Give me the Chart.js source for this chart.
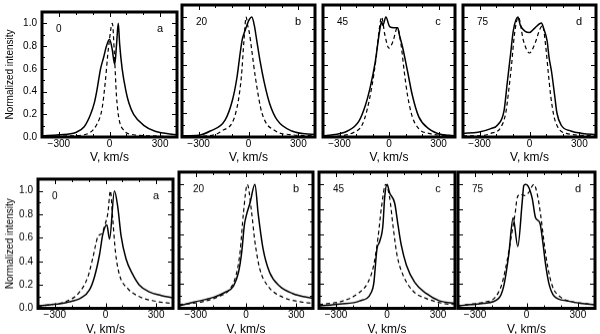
<!DOCTYPE html>
<html>
<head>
<meta charset="utf-8">
<script src="https://cdn.jsdelivr.net/npm/chart.js@4"></script>
<style>
  body { margin: 0; background: #fff; }
  #wrap { position: relative; width: 600px; height: 334px; overflow: hidden; background: #fff; }
</style>
</head>
<body>
<div id="wrap"></div>
<script>
// axis ticks
const xTickVals = [-300, 0, 300];
const xMinorVals = [-400, -300, -200, -100, 0, 100, 200, 300, 400];
const yTickVals = [0, 0.2, 0.4, 0.6, 0.8, 1.0];
const yMinorVals = [0.1, 0.2, 0.3, 0.4, 0.5, 0.6, 0.7, 0.8, 0.9, 1.0];
const angles = ['0', '20', '45', '75'];
const letters = ['a', 'b', 'c', 'd'];

// top row, solid / dashed profiles (V in km/s, normalized intensity)
const topA_solidV = [-400,-300,-200,-150,-112,-90,-76,-53,-35,-18,0,15,31,42,52,60,75,98,115,143,205,270,400];
const topA_solidI = [0.01,0.02,0.04,0.09,0.2,0.3,0.4,0.6,0.7,0.8,0.86,0.78,0.64,0.82,1.0,0.82,0.6,0.4,0.3,0.2,0.1,0.05,0.02];
const topA_dashV = [-400,-250,-150,-72,-43,-24,-10,0,10,17,29,41,55,84,143,250,400];
const topA_dashI = [0,0.01,0.02,0.12,0.26,0.5,0.73,0.86,0.97,1.0,0.73,0.37,0.17,0.06,0.02,0.01,0];

const topB_solidV = [-400,-300,-230,-141,-96,-69,-50,-38,-25,-10,5,20,35,49,70,94,127,173,261,400];
const topB_solidI = [0.01,0.015,0.05,0.14,0.31,0.5,0.7,0.81,0.87,0.93,0.98,1.0,0.93,0.81,0.63,0.46,0.28,0.14,0.05,0.02];
const topB_dashV = [-400,-250,-161,-77,-43,-27,-14,-5,5,20,41,81,163,250,400];
const topB_dashI = [0.005,0.01,0.05,0.2,0.5,0.81,1.0,0.93,0.87,0.72,0.5,0.2,0.05,0.02,0.01];

const topC_solidV = [-400,-329,-252,-183,-144,-113,-84,-55,-45,-37,-19,4,30,53,63,82,112,141,180,240,319,400];
const topC_solidI = [0.01,0.02,0.05,0.13,0.26,0.42,0.62,0.9,0.96,0.93,1.0,0.92,0.91,0.91,0.85,0.75,0.55,0.35,0.17,0.07,0.02,0.01];
const topC_dashV = [-400,-290,-212,-163,-134,-104,-79,-59,-45,-25,0,25,50,72,92,112,141,180,240,400];
const topC_dashI = [0,0.01,0.04,0.1,0.22,0.42,0.65,0.9,1.0,0.85,0.74,0.8,0.91,0.78,0.55,0.35,0.17,0.07,0.03,0.01];

const topD_solidV = [-400,-310,-232,-192,-153,-134,-113,-98,-70,-55,-26,0,33,72,86,106,118,132,151,165,190,249,319,400];
const topD_solidI = [0.03,0.04,0.07,0.1,0.22,0.45,0.7,0.88,1.0,0.93,0.88,0.87,0.91,0.95,0.9,0.8,0.66,0.55,0.35,0.2,0.1,0.05,0.03,0.02];
const topD_dashV = [-400,-310,-232,-173,-143,-124,-108,-91,-67,-36,0,33,63,79,98,112,127,146,171,220,400];
const topD_dashI = [0.01,0.01,0.03,0.08,0.2,0.4,0.6,0.85,1.0,0.8,0.7,0.78,0.9,0.93,0.75,0.55,0.35,0.18,0.08,0.03,0.01];

// bottom row
const botA_solidV = [-400,-329,-231,-143,-94,-65,-35,-16,8,24,53,73,92,122,161,200,259,330,400];
const botA_solidI = [0.02,0.03,0.05,0.09,0.16,0.27,0.46,0.63,0.71,0.59,1.0,0.86,0.62,0.42,0.29,0.2,0.14,0.11,0.09];
const botA_dashV = [-400,-329,-231,-153,-104,-75,-45,-20,-6,14,29,43,59,82,131,200,298,400];
const botA_dashI = [0.02,0.03,0.06,0.14,0.27,0.43,0.61,0.64,0.7,0.81,1.0,0.76,0.48,0.29,0.17,0.1,0.06,0.04];

const botB_solidV = [-400,-310,-192,-124,-75,-45,-25,-10,4,24,53,73,102,141,200,278,400];
const botB_solidI = [0.02,0.05,0.09,0.13,0.18,0.29,0.46,0.67,0.76,0.85,1.0,0.76,0.48,0.29,0.18,0.12,0.08];
const botB_dashV = [-400,-271,-173,-94,-59,-35,-16,8,33,53,82,131,220,337,400];
const botB_dashI = [0.03,0.05,0.09,0.16,0.27,0.46,0.76,1.0,0.78,0.54,0.32,0.18,0.09,0.05,0.04];

const botC_solidV = [-400,-278,-161,-92,-78,-59,-43,-24,-14,0,16,45,65,84,114,163,231,310,400];
const botC_solidI = [0.02,0.035,0.06,0.13,0.2,0.48,0.54,0.67,0.89,1.0,0.93,0.85,0.67,0.51,0.35,0.21,0.12,0.06,0.04];
const botC_dashV = [-400,-259,-171,-112,-78,-53,-33,-8,16,35,59,94,153,231,329,400];
const botC_dashI = [0.03,0.06,0.12,0.21,0.35,0.57,0.81,1.0,0.89,0.67,0.43,0.27,0.14,0.08,0.04,0.03];

const botD_solidV = [-400,-329,-251,-163,-133,-104,-78,-51,-25,-16,-6,8,33,53,78,92,112,131,161,239,318,400];
const botD_solidI = [0.02,0.03,0.04,0.08,0.18,0.43,0.73,0.5,0.86,0.99,1.0,0.99,0.89,0.73,0.69,0.57,0.35,0.2,0.1,0.06,0.04,0.03];
const botD_dashV = [-400,-349,-251,-182,-143,-114,-84,-65,-55,-35,-10,10,43,63,82,102,122,151,200,278,400];
const botD_dashI = [0.02,0.03,0.05,0.09,0.2,0.38,0.62,0.78,0.89,0.92,0.91,0.93,1.0,0.92,0.76,0.54,0.35,0.18,0.09,0.05,0.03];

// plot-area boxes in page pixels
const topBoxes = [[42,177],[182,315],[323,455],[463,596]];
const botBoxes = [[38,173],[179,313],[319,455],[458,595]];
const topY = [5, 137];
const botY = [172, 307.5];

const FONT = "'Liberation Sans', Arial, Helvetica, sans-serif";

function pts(vs, is) {
    return vs.map((v, k) => ({ x: v, y: is[k] }));
}

const frameAndTicks = {
    id: 'frameAndTicks',
    afterDatasetsDraw(chart, args, opts) {
        const ctx = chart.ctx;
        const a = chart.chartArea;
        const x = chart.scales.x, y = chart.scales.y;
        ctx.save();
        ctx.strokeStyle = '#000';
        ctx.lineWidth = 1;
        ctx.beginPath();
        xMinorVals.forEach(v => {
            const px = Math.round(x.getPixelForValue(v)) + 0.5;
            const len = xTickVals.includes(v) ? 5 : 3;
            ctx.moveTo(px, a.bottom); ctx.lineTo(px, a.bottom - len);
            ctx.moveTo(px, a.top); ctx.lineTo(px, a.top + len);
        });
        yMinorVals.forEach(v => {
            const py = Math.round(y.getPixelForValue(v)) + 0.5;
            const len = Math.round(v * 10) % 2 === 0 ? 5 : 3;
            ctx.moveTo(a.left, py); ctx.lineTo(a.left + len, py);
            ctx.moveTo(a.right, py); ctx.lineTo(a.right - len, py);
        });
        ctx.stroke();
        ctx.lineWidth = 3;
        ctx.strokeRect(a.left, a.top, a.right - a.left, a.bottom - a.top);
        ctx.fillStyle = '#000';
        ctx.font = '10px ' + FONT;
        ctx.textBaseline = 'middle';
        ctx.textAlign = 'left';
        ctx.fillText(opts.angle, a.left + 14, a.top + 17);
        ctx.font = '11px ' + FONT;
        ctx.textAlign = 'center';
        ctx.fillText(opts.letter, a.right - 17, a.top + 17);
        ctx.restore();
    }
};

function makePanel(box, rowY, col, solidV, solidI, dashV, dashI) {
    const L = box[0], R = box[1], T = rowY[0], B = rowY[1];
    const first = col === 0;
    const padL = 3, padT = 4, padR = 3, xH = 28;
    const yW = first ? L - padL : 0;
    const div = document.createElement('div');
    div.style.position = 'absolute';
    div.style.left = (L - yW - padL) + 'px';
    div.style.top = (T - padT) + 'px';
    div.style.width = (R - L + yW + padL + padR) + 'px';
    div.style.height = (B - T + padT + xH) + 'px';
    const canvas = document.createElement('canvas');
    div.appendChild(canvas);
    document.getElementById('wrap').appendChild(div);

    new Chart(canvas, {
        type: 'line',
        data: {
            datasets: [{
                data: pts(solidV, solidI),
                borderColor: '#000',
                borderWidth: 1.5,
                pointRadius: 0,
                cubicInterpolationMode: 'monotone'
            }, {
                data: pts(dashV, dashI),
                borderColor: '#000',
                borderWidth: 1.2,
                borderDash: [4, 3],
                pointRadius: 0,
                cubicInterpolationMode: 'monotone'
            }]
        },
        options: {
            responsive: true,
            maintainAspectRatio: false,
            animation: false,
            events: [],
            layout: { padding: { left: padL, top: padT, right: padR, bottom: 0 } },
            plugins: {
                legend: { display: false },
                tooltip: { enabled: false },
                frameAndTicks: { angle: angles[col], letter: letters[col] }
            },
            scales: {
                x: {
                    type: 'linear',
                    min: -400,
                    max: 400,
                    afterBuildTicks: s => { s.ticks = xTickVals.map(v => ({ value: v })); },
                    afterFit: s => { s.height = xH; },
                    grid: { display: false, drawTicks: false },
                    border: { display: false },
                    ticks: {
                        color: '#000',
                        padding: 1,
                        maxRotation: 0,
                        autoSkip: false,
                        font: { family: FONT, size: 10 },
                        callback: v => v < 0 ? '\u2212' + Math.abs(v) : String(v)
                    },
                    title: {
                        display: true,
                        text: 'V, km/s',
                        color: '#000',
                        padding: 0,
                        font: { family: FONT, size: 12 }
                    }
                },
                y: {
                    type: 'linear',
                    min: 0,
                    max: 1.1,
                    display: first,
                    afterBuildTicks: s => { s.ticks = yTickVals.map(v => ({ value: v })); },
                    afterFit: s => { s.width = yW; },
                    grid: { display: false, drawTicks: false },
                    border: { display: false },
                    ticks: {
                        color: '#000',
                        padding: 5,
                        font: { family: FONT, size: 10 },
                        callback: v => v.toFixed(1)
                    },
                    title: {
                        display: true,
                        text: 'Normalized intensity',
                        color: '#000',
                        padding: 1,
                        font: { family: FONT, size: 10 }
                    }
                }
            }
        },
        plugins: [frameAndTicks]
    });
}

makePanel(topBoxes[0], topY, 0, topA_solidV, topA_solidI, topA_dashV, topA_dashI);
makePanel(topBoxes[1], topY, 1, topB_solidV, topB_solidI, topB_dashV, topB_dashI);
makePanel(topBoxes[2], topY, 2, topC_solidV, topC_solidI, topC_dashV, topC_dashI);
makePanel(topBoxes[3], topY, 3, topD_solidV, topD_solidI, topD_dashV, topD_dashI);
makePanel(botBoxes[0], botY, 0, botA_solidV, botA_solidI, botA_dashV, botA_dashI);
makePanel(botBoxes[1], botY, 1, botB_solidV, botB_solidI, botB_dashV, botB_dashI);
makePanel(botBoxes[2], botY, 2, botC_solidV, botC_solidI, botC_dashV, botC_dashI);
makePanel(botBoxes[3], botY, 3, botD_solidV, botD_solidI, botD_dashV, botD_dashI);
</script>
</body>
</html>
